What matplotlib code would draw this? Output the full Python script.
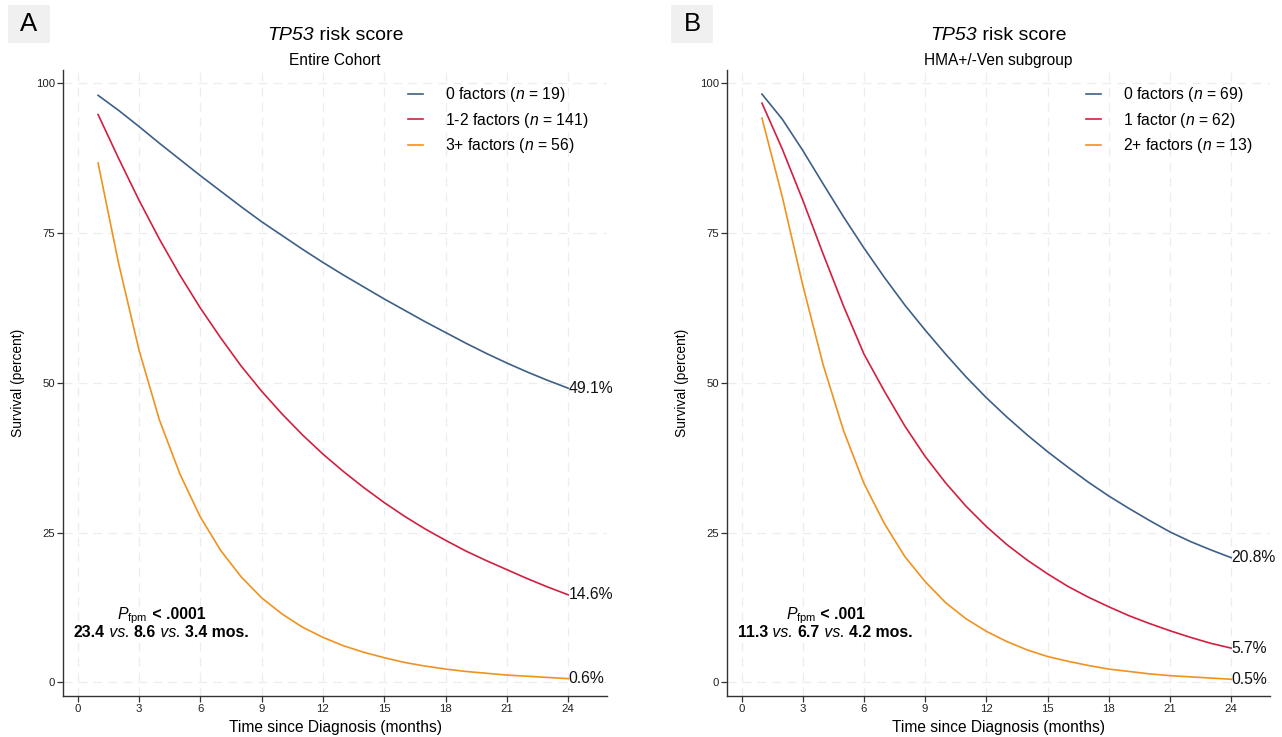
import matplotlib
matplotlib.use("Agg")
import matplotlib.pyplot as plt
from matplotlib.patches import Rectangle
from matplotlib.offsetbox import TextArea, HPacker, AnnotationBbox

plt.rcParams['font.family'] = ['Liberation Sans', 'DejaVu Sans']
plt.rcParams['mathtext.fontset'] = 'custom'
plt.rcParams['mathtext.rm'] = 'Liberation Sans'
plt.rcParams['mathtext.it'] = 'Liberation Sans:italic'
plt.rcParams['mathtext.bf'] = 'Liberation Sans:bold'

months = list(range(1, 25))

# panel A - entire cohort
a_zero = [98.0, 95.5, 92.8, 90.0, 87.3, 84.6, 82.0, 79.4, 76.9, 74.6, 72.3, 70.1,
          68.0, 66.0, 64.0, 62.1, 60.2, 58.4, 56.6, 54.9, 53.3, 51.8, 50.4, 49.1]
a_mid = [94.8, 87.5, 80.5, 74.0, 68.0, 62.5, 57.5, 52.8, 48.6, 44.8, 41.3, 38.1,
         35.2, 32.5, 30.0, 27.7, 25.6, 23.7, 21.9, 20.3, 18.8, 17.3, 15.9, 14.6]
a_high = [86.7, 70.0, 55.5, 43.8, 34.8, 27.6, 22.0, 17.6, 14.1, 11.4, 9.2, 7.5,
          6.1, 5.0, 4.1, 3.3, 2.7, 2.2, 1.8, 1.5, 1.2, 1.0, 0.8, 0.6]
a_labels = [r"0 factors ($\mathit{n}$ = 19)", r"1-2 factors ($\mathit{n}$ = 141)",
            r"3+ factors ($\mathit{n}$ = 56)"]
a_end = ["49.1%", "14.6%", "0.6%"]

# panel B - HMA+/-Ven subgroup
b_zero = [98.2, 94.0, 88.8, 83.2, 77.7, 72.5, 67.6, 63.0, 58.8, 54.8, 51.0, 47.5,
          44.3, 41.3, 38.5, 35.9, 33.4, 31.1, 29.0, 27.0, 25.1, 23.5, 22.1, 20.8]
b_mid = [96.7, 89.0, 80.5, 71.5, 62.8, 54.8, 48.6, 42.8, 37.7, 33.3, 29.4, 26.0,
         23.0, 20.4, 18.1, 16.0, 14.2, 12.6, 11.1, 9.8, 8.6, 7.5, 6.5, 5.7]
b_high = [94.2, 81.0, 66.3, 53.0, 42.0, 33.2, 26.5, 21.0, 16.8, 13.3, 10.6, 8.5,
          6.8, 5.4, 4.3, 3.5, 2.8, 2.2, 1.8, 1.4, 1.1, 0.9, 0.7, 0.5]
b_labels = [r"0 factors ($\mathit{n}$ = 69)", r"1 factor ($\mathit{n}$ = 62)",
            r"2+ factors ($\mathit{n}$ = 13)"]
b_end = ["20.8%", "5.7%", "0.5%"]

colors = ["#3d5f88", "#d21f3f", "#f0921e"]

fig = plt.figure(figsize=(12.82, 7.37), dpi=100)


def mixed(ax, pieces, xy, coords, size):
    # pieces: list of (text, weight, style)
    boxes = [TextArea(t, textprops=dict(fontsize=size, fontweight=w, fontstyle=s, color='black'))
             for t, w, s in pieces]
    pack = HPacker(children=boxes, align="baseline", pad=0, sep=0)
    ab = AnnotationBbox(pack, xy, xycoords=coords, frameon=False, box_alignment=(0.5, 0.5),
                        pad=0, annotation_clip=False)
    ax.add_artist(ab)


def draw_panel(rect, series, labels, ends, subtitle, pval, medians, leg_x, letter, letter_x):
    ax = fig.add_axes(rect)
    for s, lab, c in zip(series, labels, colors):
        ax.plot(months, s, color=c, lw=1.2, label=lab)
    for s, e in zip(series, ends):
        ax.text(months[-1] + 0.02, s[-1], e, fontsize=11.3, va='center', ha='left', color='#111111')

    ax.set_xlim(-0.7, 25.9)
    ax.set_ylim(-2.3, 102.3)
    ax.set_xticks(range(0, 25, 3))
    ax.set_yticks([0, 25, 50, 75, 100])
    ax.grid(True, ls=(0, (7, 5)), color='#ededed', lw=0.9)
    ax.set_axisbelow(True)
    for sp in ['top', 'right']:
        ax.spines[sp].set_visible(False)
    for sp in ['left', 'bottom']:
        ax.spines[sp].set_color('#333333')
        ax.spines[sp].set_linewidth(1.0)
    ax.tick_params(labelsize=8.2, colors='#333333', length=4, width=0.9, labelcolor='#222222', pad=2)
    ax.set_xlabel("Time since Diagnosis (months)", fontsize=11.2, labelpad=4)
    ax.set_ylabel("Survival (percent)", fontsize=9.9, labelpad=8)

    ax.legend(loc='upper left', bbox_to_anchor=(leg_x, 0.985), frameon=False, fontsize=11.3,
              handlelength=1.0, handletextpad=1.35, labelspacing=0.42, borderaxespad=0)

    mixed(ax, [("TP53", 'normal', 'italic'), (" risk score", 'normal', 'normal')],
          (0.5, 1.055), 'axes fraction', 14)
    ax.text(0.5, 1.014, subtitle, transform=ax.transAxes, ha='center', va='center', fontsize=11.2)

    mixed(ax, [(r"$\mathit{P}_{\mathrm{fpm}}$", 'normal', 'normal'),
               (" < " + pval, 'bold', 'normal')], (4.1, 11.1), 'data', 11.4)
    mixed(ax, [(medians[0], 'bold', 'normal'), (" vs. ", 'normal', 'italic'),
               (medians[1], 'bold', 'normal'), (" vs. ", 'normal', 'italic'),
               (medians[2] + " mos.", 'bold', 'normal')], (4.1, 8.3), 'data', 11.4)

    fig.patches.append(Rectangle((letter_x / 1282, 1 - 43 / 737), 42 / 1282, 38 / 737,
                                 transform=fig.transFigure, facecolor='#f0f0f0',
                                 edgecolor='none', zorder=0))
    fig.text((letter_x + 21) / 1282, 1 - 24 / 737, letter, ha='center', va='center', fontsize=18.5)
    return ax


draw_panel([0.0494, 0.0556, 0.4241, 0.850], [a_zero, a_mid, a_high], a_labels, a_end,
           "Entire Cohort", ".0001", ["23.4", "8.6", "3.4"], 0.622, "A", 8)
draw_panel([0.5673, 0.0556, 0.4233, 0.850], [b_zero, b_mid, b_high], b_labels, b_end,
           "HMA+/-Ven subgroup", ".001", ["11.3", "6.7", "4.2"], 0.649, "B", 671)

fig.savefig("out.png", dpi=100)
